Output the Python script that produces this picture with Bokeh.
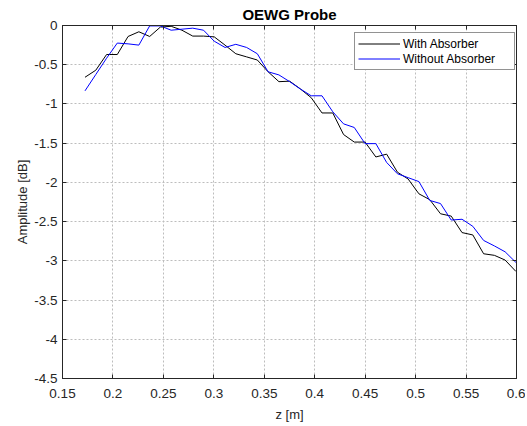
from bokeh.plotting import figure
from bokeh.models import (LinearAxis, FixedTicker, Legend, LegendItem, Range1d,
                          CustomJSTickFormatter)
from bokeh.embed import file_html
from bokeh.resources import INLINE

# ---- data ----
z = [0.1723, 0.1830, 0.1937, 0.2043, 0.2150, 0.2257, 0.2364, 0.2470, 0.2577, 0.2684,
     0.2791, 0.2898, 0.3004, 0.3111, 0.3218, 0.3325, 0.3431, 0.3538, 0.3645, 0.3752,
     0.3859, 0.3965, 0.4072, 0.4179, 0.4286, 0.4392, 0.4499, 0.4606, 0.4713, 0.4820,
     0.4926, 0.5033, 0.5140, 0.5247, 0.5353, 0.5460, 0.5567, 0.5674, 0.5781, 0.5887,
     0.5994]

with_absorber = [-0.66, -0.57, -0.37, -0.37, -0.14, -0.08, -0.14, -0.02, -0.01, -0.06,
                 -0.135, -0.135, -0.145, -0.25, -0.36, -0.40, -0.44, -0.59, -0.716, -0.71,
                 -0.81, -0.92, -1.115, -1.115, -1.39, -1.486, -1.486, -1.676, -1.64, -1.87,
                 -1.957, -2.146, -2.22, -2.40, -2.43, -2.64, -2.67, -2.91, -2.93, -2.99,
                 -3.135]

without_absorber = [-0.833, -0.625, -0.417, -0.224, -0.234, -0.25, -0.005, -0.005, -0.06, -0.047,
                    -0.034, -0.06, -0.20, -0.28, -0.24, -0.28, -0.36, -0.59, -0.63, -0.716,
                    -0.81, -0.896, -0.896, -1.10, -1.254, -1.30, -1.506, -1.506, -1.746, -1.89,
                    -1.94, -1.99, -2.23, -2.27, -2.48, -2.47, -2.56, -2.74, -2.81, -2.885,
                    -3.02]

x_ticks = [0.15, 0.2, 0.25, 0.3, 0.35, 0.4, 0.45, 0.5, 0.55, 0.6]
x_tick_labels = ["0.15", "0.2", "0.25", "0.3", "0.35", "0.4", "0.45", "0.5", "0.55", "0.6"]
y_ticks = [0, -0.5, -1, -1.5, -2, -2.5, -3, -3.5, -4, -4.5]
y_tick_labels = ["0", "-0.5", "-1", "-1.5", "-2", "-2.5", "-3", "-3.5", "-4", "-4.5"]

FONT = "Liberation Sans"
AX = "#262626"

p = figure(width=525, height=424, output_backend="svg", toolbar_location=None,
           x_range=Range1d(0.15, 0.6), y_range=Range1d(-4.5, 0),
           min_border_left=62, min_border_right=9, min_border_top=25, min_border_bottom=43,
           title="OEWG Probe")
p.title.align = "center"
p.title.text_font = FONT
p.title.text_font_size = "15px"
p.title.text_font_style = "bold"
p.title.text_color = "black"
p.title.standoff = 6

p.outline_line_color = AX
p.outline_line_width = 1

fmt = CustomJSTickFormatter(code="return tick.toFixed(2).replace(/0+$/,'').replace(/\\.$/,'');")
blank = CustomJSTickFormatter(code="return '';")

for ax, ticks, labels in ((p.xaxis[0], x_ticks, x_tick_labels), (p.yaxis[0], y_ticks, y_tick_labels)):
    ax.ticker = FixedTicker(ticks=ticks)
    ax.formatter = fmt
    ax.major_label_overrides = dict(zip(ticks, labels))
    ax.major_tick_in = 4
    ax.major_tick_out = 0
    ax.minor_tick_in = 0
    ax.minor_tick_out = 0
    ax.axis_line_color = AX
    ax.major_tick_line_color = AX
    ax.major_label_text_font = FONT
    ax.major_label_text_font_size = "13.5px"
    ax.major_label_text_color = AX
    ax.axis_label_text_font = FONT
    ax.axis_label_text_font_size = "13px"
    ax.axis_label_text_font_style = "normal"
    ax.axis_label_text_color = AX

p.xaxis.axis_label = "z [m]"
p.yaxis.axis_label = "Amplitude [dB]"
p.xaxis.major_label_standoff = 10
p.yaxis.major_label_standoff = 5
p.xaxis.axis_label_standoff = 6
p.yaxis.axis_label_standoff = 1

for side, ticks in (("above", x_ticks), ("right", y_ticks)):
    extra = LinearAxis(ticker=FixedTicker(ticks=ticks), formatter=blank,
                       major_label_standoff=0, major_tick_in=4, major_tick_out=0,
                       minor_tick_in=0, minor_tick_out=0, axis_line_color=AX,
                       major_tick_line_color=AX)
    p.add_layout(extra, side)

for g, ticks in ((p.xgrid[0], x_ticks), (p.ygrid[0], y_ticks)):
    g.ticker = FixedTicker(ticks=ticks)
    g.grid_line_color = "#bdbdbd"
    g.grid_line_dash = "2 2"
    g.grid_line_width = 1

r1 = p.line(z, with_absorber, line_color="black", line_width=1)
r2 = p.line(z, without_absorber, line_color="blue", line_width=1)

legend = Legend(items=[LegendItem(label="With Absorber", renderers=[r1]),
                       LegendItem(label="Without Absorber", renderers=[r2])],
                location=(292, 308), orientation="vertical")
legend.label_text_font = FONT
legend.label_text_font_size = "12px"
legend.label_text_color = "black"
legend.glyph_width = 42
legend.glyph_height = 15
legend.label_height = 15
legend.label_width = 108
legend.label_standoff = 3
legend.padding = 3
legend.spacing = 0
legend.margin = 0
legend.border_line_color = AX
legend.border_line_width = 1
legend.background_fill_color = "white"
legend.background_fill_alpha = 1
p.add_layout(legend, "center")

open("out.html", "w").write(file_html(p, INLINE))
